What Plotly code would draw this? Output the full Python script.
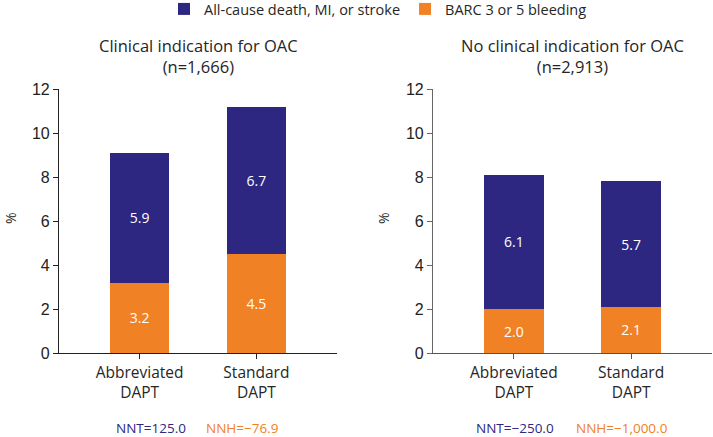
import plotly.graph_objects as go

categories = ["Abbreviated<br>DAPT", "Standard<br>DAPT"]
panel_titles = ["Clinical indication for OAC<br>(n=1,666)", "No clinical indication for OAC<br>(n=2,913)"]
bleeding_left = [3.2, 4.5]
death_left = [5.9, 6.7]
bleeding_right = [2.0, 2.1]
death_right = [6.1, 5.7]
nnt_labels = ["NNT=125.0", "NNT=\u2212250.0"]
nnh_labels = ["NNH=\u221276.9", "NNH=\u22121,000.0"]
y_ticks = [0, 2, 4, 6, 8, 10, 12]

PURPLE = "#2e2782"
ORANGE = "#f08125"
TXT = "#262626"
FONT = "Open Sans"
W, H = 713, 437

fig = go.Figure()
panels = [(bleeding_left, death_left, "x", "y"), (bleeding_right, death_right, "x2", "y2")]
for i, (bl, de, xa, ya) in enumerate(panels):
    fig.add_trace(go.Bar(
        x=categories, y=bl, xaxis=xa, yaxis=ya, name="BARC 3 or 5 bleeding",
        marker=dict(color=ORANGE, line=dict(width=0)), width=0.51,
        text=[f"{v:.1f}" for v in bl], textposition="inside", insidetextanchor="middle",
        textfont=dict(color="white", size=14, family=FONT), showlegend=(i == 0),
        legendrank=2))
    fig.add_trace(go.Bar(
        x=categories, y=de, xaxis=xa, yaxis=ya, name="All-cause death, MI, or stroke",
        marker=dict(color=PURPLE, line=dict(width=0)), width=0.51,
        text=[f"{v:.1f}" for v in de], textposition="inside", insidetextanchor="middle",
        textfont=dict(color="white", size=14, family=FONT), showlegend=(i == 0),
        legendrank=1))

ydom = [(H - 353) / H, (H - 89) / H]
xdoms = [[59 / W, 337 / W], [433 / W, 712 / W]]


def axis_style(color):
    return dict(showline=True, linecolor=color, linewidth=1.2, ticks="outside",
                ticklen=5, tickcolor=color, showgrid=False, zeroline=False, automargin=False)


def yax(color):
    return dict(range=[0, 12], tickvals=y_ticks, domain=ydom,
                tickfont=dict(family="Liberation Sans", size=16, color="#222"), **axis_style(color))


def xax(color):
    return dict(range=[-0.69, 1.69], tickfont=dict(family=FONT, size=15.5, color=TXT), **axis_style(color))


fig.update_layout(
    barmode="stack",
    width=W, height=H,
    margin=dict(l=0, r=0, t=0, b=0, autoexpand=False),
    plot_bgcolor="white", paper_bgcolor="white",
    font=dict(family=FONT, color=TXT),
    xaxis=dict(domain=xdoms[0], anchor="y", **xax("#222222")),
    xaxis2=dict(domain=xdoms[1], anchor="y2", **xax("#555555")),
    yaxis=dict(anchor="x", **yax("#222222")),
    yaxis2=dict(anchor="x2", **yax("#666666")),
    legend=dict(orientation="h", x=164 / W, xanchor="left", y=(H - 9) / H, yanchor="middle",
                font=dict(family=FONT, size=14.5, color=TXT), traceorder="normal",
                itemwidth=30, bgcolor="rgba(0,0,0,0)"),
)

centers = [(59 + 337) / 2 / W, (433 + 712) / 2 / W]
for c, t in zip(centers, panel_titles):
    fig.add_annotation(x=c, y=(H - 56) / H, xref="paper", yref="paper", text=t,
                       showarrow=False, font=dict(family=FONT, size=16.5, color=TXT),
                       xanchor="center", yanchor="middle")

for px in [11, 384]:
    fig.add_annotation(x=px / W, y=(H - 218) / H, xref="paper", yref="paper", text="%",
                       showarrow=False, textangle=-90, font=dict(family=FONT, size=14, color=TXT),
                       xanchor="center", yanchor="middle")

nnt_x = [151 / W, 515 / W]
nnh_x = [242 / W, 622 / W]
for xt, xh, tt, th in zip(nnt_x, nnh_x, nnt_labels, nnh_labels):
    fig.add_annotation(x=xt, y=(H - 428) / H, xref="paper", yref="paper", text=tt,
                       showarrow=False, font=dict(family=FONT, size=13.5, color=PURPLE),
                       xanchor="center", yanchor="middle")
    fig.add_annotation(x=xh, y=(H - 428) / H, xref="paper", yref="paper", text=th,
                       showarrow=False, font=dict(family=FONT, size=13.5, color=ORANGE),
                       xanchor="center", yanchor="middle")

fig.write_html(
    "out.html",
    config={"displayModeBar": False},
    post_script="document.body.style.margin='0';document.body.style.padding='0';"
                "document.documentElement.style.overflow='hidden';",
)
